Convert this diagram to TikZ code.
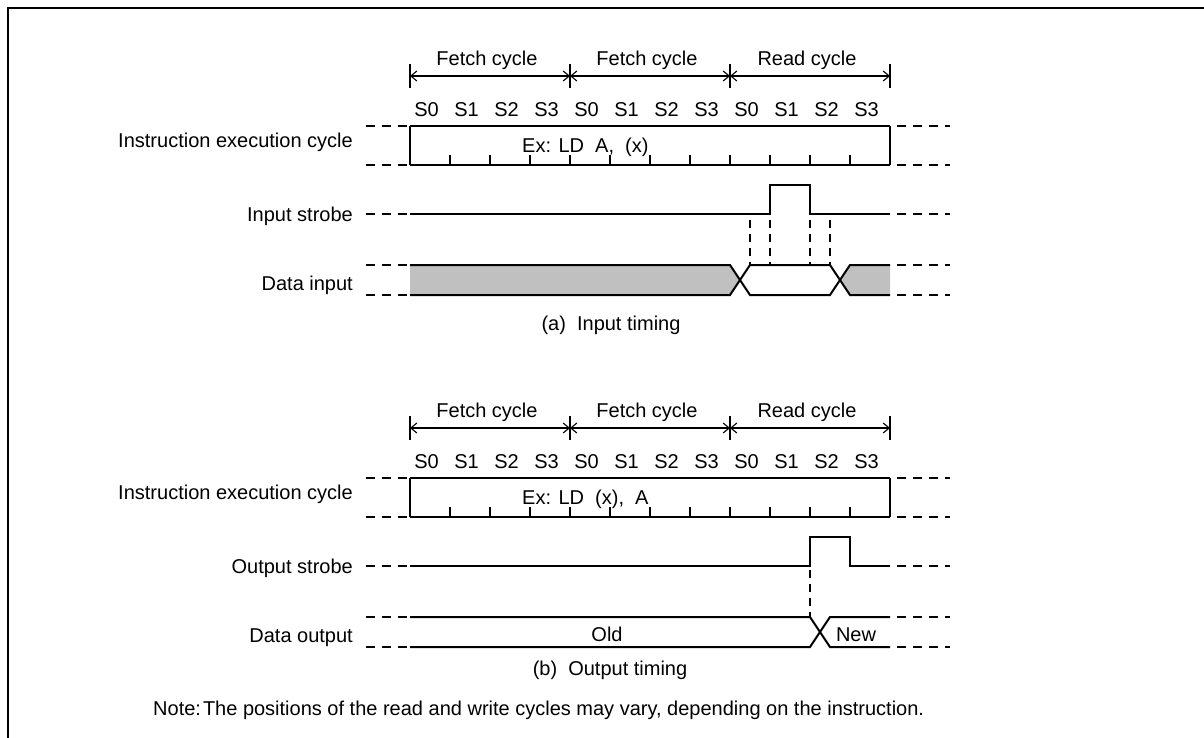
\documentclass[tikz,border=0pt]{standalone}
\usepackage{fontspec}
\setmainfont{Liberation Sans}
\usetikzlibrary{arrows.meta}
\definecolor{gfill}{RGB}{192,192,192}
\tikzset{
  lab/.style={font=\fontsize{20pt}{24pt}\selectfont, inner sep=0pt, text=black},
  sig/.style={line width=2pt},
  ext/.style={line width=2pt, dash pattern=on 9pt off 7pt},
  vdash/.style={line width=1.8pt, dash pattern=on 8pt off 6pt},
  boxside/.style={line width=2.6pt},
  cbar/.style={line width=1.3pt},
  tickln/.style={line width=1.8pt},
  arr/.style={line width=1.1pt, arrows={Straight Barb[length=6pt,width=10pt]-Straight Barb[length=6pt,width=10pt]}},
}
\newcommand\mkhead[2]{%
  \foreach \i/\lbl in {0/Fetch cycle,1/Fetch cycle,2/Read cycle}{%
    \node[lab,anchor=base] (#1cyc\i) at ({487+160*\i},65) {\lbl};}
  \foreach \i in {0,...,3}{%
    \coordinate (#1bar\i) at ({410+160*\i},76);
    \draw[cbar] ([yshift=12pt]#1bar\i) -- ([yshift=-12pt]#1bar\i);}
  \draw[arr] (#1bar0) -- (#1bar1);
  \draw[arr] (#1bar1) -- (#1bar2);
  \draw[arr] (#1bar2) -- (#1bar3);
  \foreach \k in {0,...,11}{%
    \pgfmathtruncatemacro\m{mod(\k,4)}
    \node[lab,anchor=base] (#1s\k) at ({426.5+40*\k},116) {S\m};}
  \coordinate (#1tl) at (410,126);
  \coordinate (#1tr) at (890,126);
  \coordinate (#1bl) at (410,165);
  \coordinate (#1br) at (890,165);
  \draw[sig] (#1tl) -- (#1tr);
  \draw[sig] (#1bl) -- (#1br);
  \draw[boxside] (#1tl) -- (#1bl);
  \draw[boxside] (#1tr) -- (#1br);
  \foreach \k in {1,...,10}{\draw[tickln] ({410+40*\k},165) -- ({410+40*\k},155);}
  \draw[tickln] (850,165) -- (850,155);
  \draw[ext] (366,126) -- (410,126);
  \draw[ext] (366,165) -- (410,165);
  \draw[ext] (897,126) -- (950,126);
  \draw[ext] (897,165) -- (950,165);
  \node[lab,anchor=base east] (#1name) at (353,147) {Instruction execution cycle};
  \node[lab,anchor=base west] (#1ex) at (522,152) {#2};
}
\begin{document}
\begin{tikzpicture}[x=1pt,y=-1pt]
\useasboundingbox (0,0) rectangle (1204,737);
\fill[white] (0,0) rectangle (1204,737);
% frame
\draw[line width=2pt] (8,745) -- (8,8) -- (1210,8);

% ---------------- (a) input timing ----------------
\mkhead{a}{Ex: LD\ \ A,\ \ (x)}
% input strobe
\coordinate (as0) at (410,213.5);
\coordinate (as1) at (770,213.5);
\coordinate (as2) at (770,185);
\coordinate (as3) at (810,185);
\coordinate (as4) at (810,213.5);
\coordinate (as5) at (890,213.5);
\draw[sig] (as0) -- (as1) -- (as2) -- (as3) -- (as4) -- (as5);
\draw[ext] (366,213.5) -- (as0);
\draw[ext] (897,213.5) -- (950,213.5);
\node[lab,anchor=base east] (astrobe) at (353,221) {Input strobe};
% dashed guides
\foreach \x in {750,770,810,830}{\draw[vdash] (\x,220) -- (\x,265);}
% data input
\fill[gfill] (410,265) -- (730,265) -- (740,280) -- (730,295) -- (410,295) -- cycle;
\fill[gfill] (890,265) -- (850,265) -- (840,280) -- (850,295) -- (890,295) -- cycle;
\draw[sig] (410,265) -- (730,265) -- (750,295) -- (830,295) -- (850,265) -- (890,265);
\draw[sig] (410,295) -- (730,295) -- (750,265) -- (830,265) -- (850,295) -- (890,295);
\draw[ext] (366,265) -- (410,265);
\draw[ext] (366,295) -- (410,295);
\draw[ext] (897,265) -- (950,265);
\draw[ext] (897,295) -- (950,295);
\node[lab,anchor=base east] (adata) at (353,290) {Data input};
\node[lab,anchor=base] (acap) at (611,330) {(a)\ \ Input timing};

% ---------------- (b) output timing ----------------
\begin{scope}[yshift=-352pt]
\mkhead{b}{Ex: LD\ \ (x),\ \ A}
\coordinate (bs0) at (410,213.5);
\coordinate (bs1) at (810,213.5);
\coordinate (bs2) at (810,185);
\coordinate (bs3) at (850,185);
\coordinate (bs4) at (850,213.5);
\coordinate (bs5) at (890,213.5);
\draw[sig] (bs0) -- (bs1) -- (bs2) -- (bs3) -- (bs4) -- (bs5);
\draw[ext] (366,213.5) -- (bs0);
\draw[ext] (897,213.5) -- (950,213.5);
\node[lab,anchor=base east] (bstrobe) at (353,221) {Output strobe};
\draw[vdash] (810,218) -- (810,265);
\draw[sig] (410,265) -- (810,265) -- (830,295) -- (890,295);
\draw[sig] (410,295) -- (810,295) -- (830,265) -- (890,265);
\draw[ext] (366,265) -- (410,265);
\draw[ext] (366,295) -- (410,295);
\draw[ext] (897,265) -- (950,265);
\draw[ext] (897,295) -- (950,295);
\node[lab,anchor=base east] (bdata) at (353,290) {Data output};
\node[lab,anchor=base] (bold) at (607,289) {Old};
\node[lab,anchor=base] (bnew) at (856,289) {New};
\end{scope}
\node[lab,anchor=base] (bcap) at (610,675) {(b)\ \ Output timing};
\node[lab,anchor=base west] (note) at (153,715) {Note:\hspace{2pt}The positions of the read and write cycles may vary, depending on the instruction.};
\end{tikzpicture}
\end{document}
